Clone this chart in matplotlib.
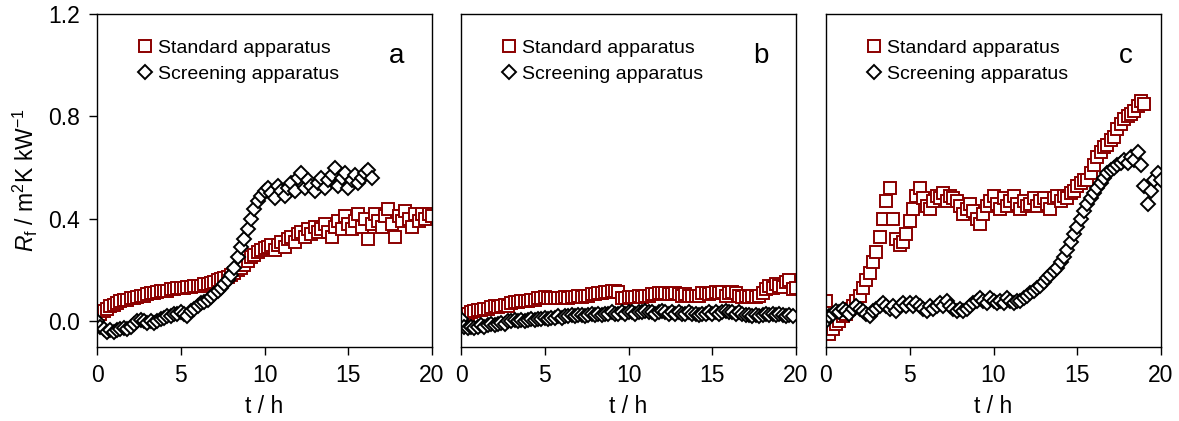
import numpy as np
import matplotlib
matplotlib.use("Agg")
import matplotlib.pyplot as plt

plt.rcParams['font.family'] = ['Liberation Sans', 'DejaVu Sans']
plt.rcParams['mathtext.fontset'] = 'custom'
plt.rcParams['mathtext.rm'] = 'Liberation Sans'
plt.rcParams['mathtext.it'] = 'Liberation Sans:italic'

red = '#8B0000'

# time grids (h), sampled every 0.2 h
t_a_std = np.round(np.arange(0, 20.01, 0.2), 1)
t_a_scr = np.round(np.arange(0, 16.41, 0.2), 1)
t_b_std = np.round(np.arange(0, 20.01, 0.2), 1)
t_b_scr = np.round(np.arange(0, 19.81, 0.2), 1)
t_c_std = np.round(np.arange(0, 19.01, 0.2), 1)
t_c_scr = np.round(np.arange(0, 20.01, 0.2), 1)

# panel a
a_std = [0.02, 0.03, 0.04, 0.05, 0.06, 0.065, 0.07, 0.08, 0.085, 0.085,
         0.09, 0.09, 0.095, 0.10, 0.10, 0.105, 0.11, 0.11, 0.115, 0.12,
         0.12, 0.12, 0.125, 0.125, 0.13, 0.13, 0.13, 0.135, 0.135, 0.14,
         0.14, 0.14, 0.145, 0.145, 0.15, 0.155, 0.16, 0.165, 0.17, 0.175,
         0.18, 0.19, 0.20, 0.21, 0.22, 0.235, 0.25, 0.26, 0.27, 0.28,
         0.285, 0.29, 0.30, 0.28, 0.30, 0.31, 0.29, 0.32, 0.33, 0.31,
         0.34, 0.35, 0.33, 0.36, 0.34, 0.37, 0.35, 0.36, 0.38, 0.35,
         0.33, 0.37, 0.39, 0.36, 0.41, 0.38, 0.36, 0.39, 0.42, 0.37,
         0.40, 0.32, 0.38, 0.42, 0.39, 0.37, 0.41, 0.44, 0.38, 0.33,
         0.41, 0.39, 0.43, 0.40, 0.37, 0.42, 0.39, 0.42, 0.40, 0.42,
         0.41]
a_scr = [0.0, -0.02, -0.03, -0.04, -0.035, -0.04, -0.035, -0.03, -0.025, -0.03,
         -0.02, -0.01, 0.0, 0.005, 0.0, -0.005, 0.0, -0.005, 0.0, 0.01,
         0.015, 0.02, 0.02, 0.03, 0.03, 0.035, 0.03, 0.02, 0.04, 0.05,
         0.06, 0.07, 0.075, 0.085, 0.095, 0.105, 0.12, 0.13, 0.145, 0.16,
         0.18, 0.21, 0.25, 0.29, 0.32, 0.36, 0.40, 0.44, 0.47, 0.49,
         0.51, 0.52, 0.50, 0.48, 0.53, 0.51, 0.49, 0.52, 0.54, 0.51,
         0.56, 0.58, 0.52, 0.55, 0.53, 0.51, 0.54, 0.56, 0.52, 0.55,
         0.57, 0.60, 0.53, 0.56, 0.58, 0.52, 0.55, 0.57, 0.54, 0.56,
         0.58, 0.59, 0.56]

# panel b
b_std = [0.02, 0.025, 0.03, 0.035, 0.04, 0.045, 0.045, 0.05, 0.05, 0.055,
         0.06, 0.055, 0.06, 0.065, 0.06, 0.07, 0.075, 0.075, 0.08, 0.08,
         0.08, 0.085, 0.085, 0.09, 0.09, 0.095, 0.09, 0.09, 0.09, 0.09,
         0.09, 0.095, 0.09, 0.095, 0.095, 0.10, 0.095, 0.10, 0.10, 0.105,
         0.105, 0.11, 0.11, 0.115, 0.115, 0.12, 0.12, 0.115, 0.09, 0.09,
         0.095, 0.095, 0.095, 0.10, 0.095, 0.10, 0.10, 0.105, 0.105, 0.11,
         0.11, 0.11, 0.105, 0.105, 0.11, 0.105, 0.10, 0.105, 0.10, 0.10,
         0.10, 0.10, 0.11, 0.11, 0.105, 0.11, 0.115, 0.11, 0.115, 0.10,
         0.11, 0.115, 0.11, 0.10, 0.095, 0.10, 0.095, 0.10, 0.095, 0.10,
         0.11, 0.125, 0.14, 0.13, 0.145, 0.14, 0.135, 0.155, 0.16, 0.125,
         0.13]
b_scr = [0.01, -0.02, -0.025, -0.02, -0.025, -0.02, -0.015, -0.02, -0.015, -0.01,
         -0.015, -0.01, -0.005, -0.01, 0.0, 0.0, 0.005, 0.0, 0.005, 0.0,
         0.005, 0.01, 0.005, 0.01, 0.01, 0.015, 0.01, 0.015, 0.015, 0.02,
         0.015, 0.02, 0.02, 0.025, 0.02, 0.025, 0.025, 0.02, 0.025, 0.03,
         0.025, 0.03, 0.025, 0.03, 0.03, 0.035, 0.03, 0.03, 0.035, 0.03,
         0.035, 0.035, 0.03, 0.035, 0.035, 0.04, 0.035, 0.035, 0.03, 0.035,
         0.04, 0.035, 0.03, 0.035, 0.03, 0.035, 0.03, 0.03, 0.035, 0.03,
         0.03, 0.025, 0.03, 0.03, 0.035, 0.03, 0.035, 0.03, 0.035, 0.04,
         0.035, 0.035, 0.03, 0.035, 0.03, 0.025, 0.025, 0.02, 0.025, 0.02,
         0.025, 0.03, 0.025, 0.03, 0.025, 0.03, 0.025, 0.02, 0.025, 0.02]

# panel c
c_std = [0.08, -0.05, -0.03, -0.01, 0.0, 0.02, 0.03, 0.05, 0.06, 0.08,
         0.10, 0.13, 0.16, 0.19, 0.23, 0.27, 0.33, 0.40, 0.47, 0.52,
         0.40, 0.32, 0.30, 0.31, 0.34, 0.39, 0.44, 0.49, 0.52, 0.48,
         0.45, 0.44, 0.47, 0.49, 0.48, 0.50, 0.47, 0.49, 0.48, 0.47,
         0.45, 0.42, 0.44, 0.46, 0.43, 0.40, 0.38, 0.42, 0.45, 0.47,
         0.49, 0.46, 0.44, 0.48, 0.45, 0.47, 0.49, 0.46, 0.44, 0.47,
         0.45, 0.46, 0.48, 0.45, 0.47, 0.48, 0.46, 0.44, 0.48, 0.49,
         0.47, 0.49, 0.48, 0.50, 0.51, 0.53, 0.54, 0.55, 0.55, 0.58,
         0.61, 0.64, 0.66, 0.68, 0.69, 0.71, 0.72, 0.75, 0.77, 0.79,
         0.80, 0.81, 0.82, 0.84, 0.86, 0.85]
c_scr = [0.0, 0.02, 0.03, 0.04, 0.035, 0.05, 0.04, 0.03, 0.05, 0.06,
         0.05, 0.04, 0.03, 0.02, 0.04, 0.05, 0.06, 0.07, 0.06, 0.05,
         0.06, 0.04, 0.06, 0.07, 0.06, 0.07, 0.06, 0.07, 0.06, 0.05,
         0.04, 0.06, 0.05, 0.06, 0.07, 0.06, 0.08, 0.06, 0.05, 0.04,
         0.05, 0.04, 0.05, 0.06, 0.07, 0.08, 0.09, 0.08, 0.07, 0.09,
         0.08, 0.07, 0.08, 0.07, 0.09, 0.08, 0.07, 0.08, 0.08, 0.09,
         0.10, 0.11, 0.12, 0.13, 0.14, 0.155, 0.17, 0.18, 0.195, 0.21,
         0.23, 0.25, 0.28, 0.31, 0.34, 0.37, 0.40, 0.43, 0.46, 0.48,
         0.50, 0.52, 0.54, 0.56, 0.58, 0.59, 0.60, 0.61, 0.62, 0.63,
         0.62, 0.64, 0.63, 0.66, 0.61, 0.53, 0.46, 0.51, 0.55, 0.58,
         0.55]

panels = [
    ('a', t_a_std, a_std, t_a_scr, a_scr),
    ('b', t_b_std, b_std, t_b_scr, b_scr),
    ('c', t_c_std, c_std, t_c_scr, c_scr),
]

fig = plt.figure(figsize=(11.79, 4.21), dpi=100)
lefts = [97, 461, 826]
W, H = 1179, 421

for i, (letter, ts, ys, td, yd) in enumerate(panels):
    ax = fig.add_axes([lefts[i] / W, 1 - 347 / H, 335 / W, 333 / H])
    ax.plot(ts, ys, ls='none', marker='s', ms=8, mfc='white', mec=red,
            mew=1.4, label='Standard apparatus')
    ax.plot(td, yd, ls='none', marker='D', ms=7.5, mfc='white', mec='black',
            mew=1.4, label='Screening apparatus')
    ax.set_xlim(0, 20)
    ax.set_ylim(-0.1, 1.2)
    ax.set_xticks([0, 5, 10, 15, 20])
    ax.set_yticks([0.0, 0.4, 0.8, 1.2])
    ax.tick_params(direction='out', length=6, width=1, labelsize=16.5, pad=6)
    for s in ax.spines.values():
        s.set_linewidth(1)
    ax.set_xlabel('t / h', fontsize=16.5, labelpad=6)
    if i == 0:
        ax.set_yticklabels(['0.0', '0.4', '0.8', '1.2'])
        ax.set_ylabel(r'$R_\mathrm{f}$ / m$^2$K kW$^{-1}$', fontsize=16.5,
                      labelpad=6)
    else:
        ax.tick_params(axis='y', left=False, labelleft=False)
    ax.legend(loc='upper left', bbox_to_anchor=(0.119, 0.925), frameon=False,
              handlelength=0.8, handletextpad=0.3, borderaxespad=0,
              borderpad=0, labelspacing=0.45, fontsize=14, numpoints=1)
    ax.text(0.895, 0.874, letter, transform=ax.transAxes, ha='center',
            va='center', fontsize=20)

fig.savefig('out.png', dpi=100)
